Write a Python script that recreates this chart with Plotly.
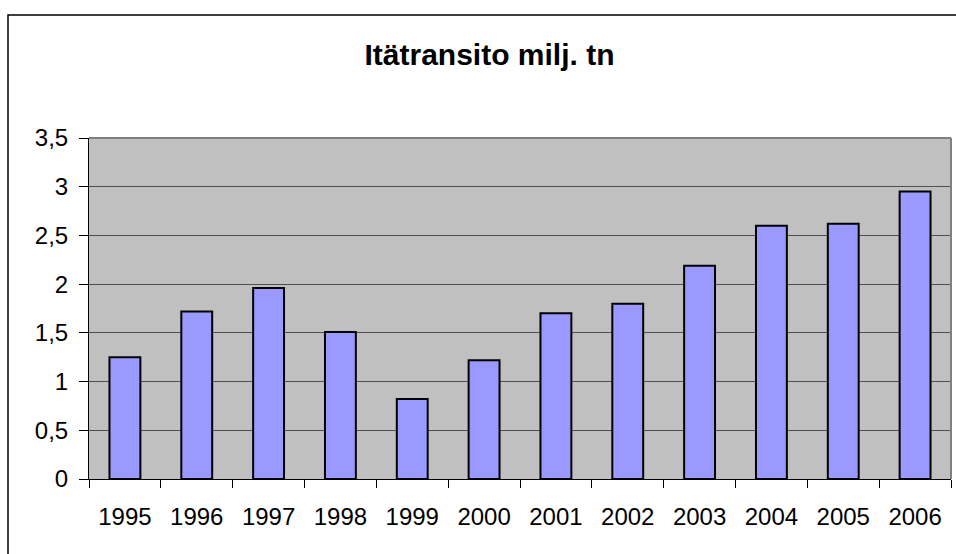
import plotly.graph_objects as go

years = ["1995", "1996", "1997", "1998", "1999", "2000", "2001", "2002", "2003", "2004", "2005", "2006"]
values = [1.25, 1.72, 1.96, 1.51, 0.82, 1.22, 1.70, 1.80, 2.19, 2.60, 2.62, 2.95]
y_ticks = [0, 0.5, 1, 1.5, 2, 2.5, 3, 3.5]
title_text = "Itätransito milj. tn"

W, H = 956, 554
L, R, T, B = 89, 5, 138, 75
pw = W - L - R
ph = H - T - B

fig = go.Figure()
fig.add_trace(go.Bar(
    x=years, y=values,
    marker=dict(color="#9999FF", line=dict(color="black", width=2)),
    width=0.43,
))

font_family = "Liberation Sans, Arial, sans-serif"

fig.update_layout(
    width=W, height=H,
    margin=dict(l=L, r=R, t=T, b=B, pad=0),
    paper_bgcolor="white",
    plot_bgcolor="#C0C0C0",
    separators=", ",
    showlegend=False,
    title=dict(text="<b>" + title_text + "</b>", x=(362 + 617) / 2 / W, xanchor="center",
               y=1 - 54 / H, yanchor="middle",
               font=dict(family=font_family, size=30, color="black")),
    font=dict(family=font_family, size=24, color="black"),
    xaxis=dict(
        type="category",
        tickson="boundaries",
        ticks="outside", ticklen=8, tickcolor="black", tickwidth=1,
        showline=True, linecolor="black", linewidth=1,
        showgrid=False,
        tickfont=dict(size=24, color="black"),
        range=[-0.5, len(years) - 0.5],
        ticklabelstandoff=16,
    ),
    yaxis=dict(
        range=[0, 3.5],
        tickvals=y_ticks,
        ticks="outside", ticklen=9, tickcolor="black", tickwidth=1,
        showline=True, linecolor="black", linewidth=1,
        showgrid=True, gridcolor="#505050", gridwidth=1,
        zeroline=False,
        tickfont=dict(size=24, color="black"),
        ticklabelstandoff=6,
    ),
    shapes=[
        dict(type="rect", xref="paper", yref="paper",
             x0=(8 - L) / pw, x1=(W + 5 - L) / pw,
             y0=-(H + 5 - T - ph) / ph, y1=1 + (T - 15) / ph,
             line=dict(color="black", width=1.5), fillcolor="rgba(0,0,0,0)", layer="below"),
        dict(type="line", xref="paper", yref="paper", x0=0, x1=1, y0=1, y1=1,
             line=dict(color="#808080", width=2)),
        dict(type="line", xref="paper", yref="paper", x0=1, x1=1, y0=0, y1=1,
             line=dict(color="#808080", width=2)),
    ],
)

fig.write_html("out.html", config={"displayModeBar": False},
               post_script="document.body.style.margin='0';document.body.style.overflow='hidden';")
